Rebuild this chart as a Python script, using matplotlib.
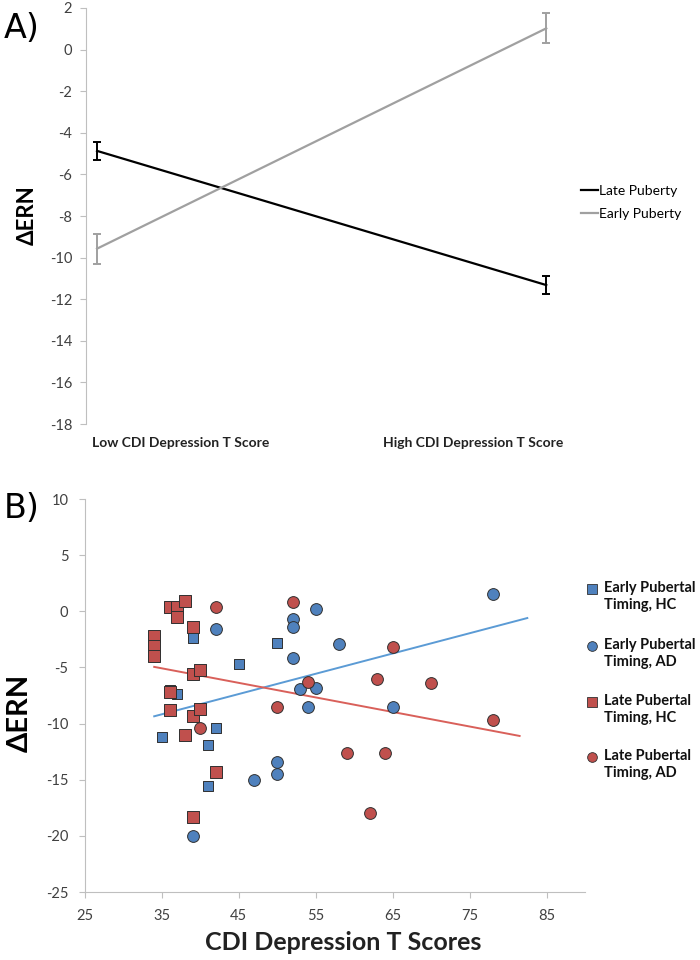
import numpy as np
import matplotlib
matplotlib.use("Agg")
import matplotlib.pyplot as plt
from matplotlib.lines import Line2D

plt.rcParams['font.family'] = ['Lato', 'DejaVu Sans']
plt.rcParams['axes.unicode_minus'] = False

# Panel A : simple slopes
a_categories = ["Low CDI Depression T Score", "High CDI Depression T Score"]
a_yticks = list(range(-18, 3, 2))
late_mean = [-4.87, -11.32]
late_err = [0.43, 0.45]
early_mean = [-9.57, 1.02]
early_err = [0.72, 0.72]

# Panel B : scatter
early_hc_x = [39, 36, 37, 35, 42, 41, 41, 45, 50]
early_hc_y = [-2.4, -7.0, -7.4, -11.2, -10.4, -11.9, -15.6, -4.7, -2.8]
early_ad_x = [42, 52, 52, 52, 55, 58, 53, 55, 54, 50, 50, 47, 39, 78, 65]
early_ad_y = [-1.6, -0.65, -1.4, -4.2, 0.2, -2.9, -6.9, -6.8, -8.5, -13.4, -14.5, -15.0, -20.0, 1.5, -8.5]
late_hc_x = [34, 34, 34, 36, 37, 38, 37, 39, 39, 40, 36, 36, 39, 40, 38, 42, 39]
late_hc_y = [-2.2, -3.1, -4.0, 0.35, 0.35, 0.95, -0.55, -1.4, -5.6, -5.2, -7.2, -8.8, -9.3, -8.7, -11.0, -14.3, -18.3]
late_ad_x = [42, 52, 40, 50, 54, 59, 65, 63, 70, 78, 64, 62]
late_ad_y = [0.4, 0.8, -10.4, -8.5, -6.3, -12.6, -3.2, -6.0, -6.4, -9.7, -12.6, -18.0]
trend_early_x = [34, 82.5]
trend_early_y = [-9.35, -0.6]
trend_late_x = [34, 81.5]
trend_late_y = [-4.95, -11.1]
b_xticks = [25, 35, 45, 55, 65, 75, 85]
b_yticks = [-25, -20, -15, -10, -5, 0, 5, 10]
b_labels = ["Early Pubertal\nTiming, HC", "Early Pubertal\nTiming, AD",
            "Late Pubertal\nTiming, HC", "Late Pubertal\nTiming, AD"]

blue = "#4F81BD"
red = "#C0504D"
axis_gray = "#BFBFBF"
text_gray = "#404040"

W, H = 700, 960
fig = plt.figure(figsize=(7, 9.6), dpi=100)

# ---------- A ----------
axA = fig.add_axes([0.1229, 0.5583, 0.6857, 0.4334])
xs = [0, 1]
axA.errorbar(xs, late_mean, yerr=late_err, color="black", lw=1.6, capsize=3,
             capthick=1.4, elinewidth=1.4, label="Late Puberty")
axA.errorbar(xs, early_mean, yerr=early_err, color="#A0A0A0", lw=1.6, capsize=3,
             capthick=1.4, elinewidth=1.4, label="Early Puberty")
axA.set_xlim(-0.0245, 1.044)
axA.set_ylim(-18, 2)
axA.set_yticks(a_yticks)
axA.set_xticks([])
for s in ["top", "right", "bottom"]:
    axA.spines[s].set_visible(False)
axA.spines["left"].set_color(axis_gray)
axA.tick_params(axis="y", colors=axis_gray, labelcolor=text_gray, labelsize=10.5,
                length=4, direction="out", pad=6)
fig.text(27 / W, 1 - 215 / H, "ΔERN", rotation=90, fontsize=16, fontweight="bold",
         ha="center", va="center")
axA.text(0.198, -0.045, a_categories[0], transform=axA.transAxes, fontsize=10,
         fontweight="bold", ha="center", va="center", color="#222222")
axA.text(0.806, -0.045, a_categories[1], transform=axA.transAxes, fontsize=10,
         fontweight="bold", ha="center", va="center", color="#222222")
hA = [Line2D([], [], color="black", lw=1.6), Line2D([], [], color="#A0A0A0", lw=1.6)]
fig.legend(hA, ["Late Puberty", "Early Puberty"], loc="center left",
           bbox_to_anchor=(0.812, 0.789), frameon=False, fontsize=10,
           handlelength=1.2, handletextpad=0.1, labelspacing=0.75)
fig.text(4 / W, 1 - 29 / H, "A)", fontsize=24, family="DejaVu Sans", va="center")

# ---------- B ----------
axB = fig.add_axes([0.1214, 0.0708, 0.7143, 0.4094])
axB.plot(trend_early_x, trend_early_y, color="#5B9BD5", lw=1.4, zorder=1)
axB.plot(trend_late_x, trend_late_y, color="#D9605A", lw=1.4, zorder=1)
axB.scatter(early_hc_x, early_hc_y, marker="s", s=60, color=blue,
            edgecolor="#303030", linewidth=0.7, zorder=2)
axB.scatter(early_ad_x, early_ad_y, marker="o", s=72, color=blue,
            edgecolor="#303030", linewidth=0.7, zorder=2)
axB.scatter(late_hc_x, late_hc_y, marker="s", s=72, color=red,
            edgecolor="#303030", linewidth=0.7, zorder=3)
axB.scatter(late_ad_x, late_ad_y, marker="o", s=72, color=red,
            edgecolor="#303030", linewidth=0.7, zorder=3)
axB.set_xlim(25, 90)
axB.set_ylim(-25, 10)
axB.set_xticks(b_xticks)
axB.set_yticks(b_yticks)
for s in ["top", "right"]:
    axB.spines[s].set_visible(False)
axB.spines["left"].set_color(axis_gray)
axB.spines["bottom"].set_color(axis_gray)
axB.tick_params(colors=axis_gray, labelcolor=text_gray, labelsize=10.5,
                length=4, direction="out", pad=8)
fig.text(20 / W, 1 - 713 / H, "ΔERN", rotation=90, fontsize=21, fontweight="bold",
         ha="center", va="center")
fig.text(343 / W, 1 - 942 / H, "CDI Depression T Scores", fontsize=18,
         fontweight="bold", ha="center", va="center", color="#222222")

# legend of B: marker beside the first line of each two-line label
b_markers = ["s", "o", "s", "o"]
b_colors = [blue, blue, red, red]
b_rows = [589, 646, 702, 757]
for lab, mk, col, ry in zip(b_labels, b_markers, b_colors, b_rows):
    fig.add_artist(Line2D([592 / W], [1 - ry / H], transform=fig.transFigure,
                          marker=mk, ls="", color=col, mec="#303030", mew=0.6, ms=7))
    fig.text(604 / W, 1 - (ry - 8) / H, lab, fontsize=10.5, fontweight="bold",
             ha="left", va="top", linespacing=1.3, color="#111111")

fig.text(4 / W, 1 - 508 / H, "B)", fontsize=24, family="DejaVu Sans", va="center")

fig.savefig("out.png", dpi=100, facecolor="white")
